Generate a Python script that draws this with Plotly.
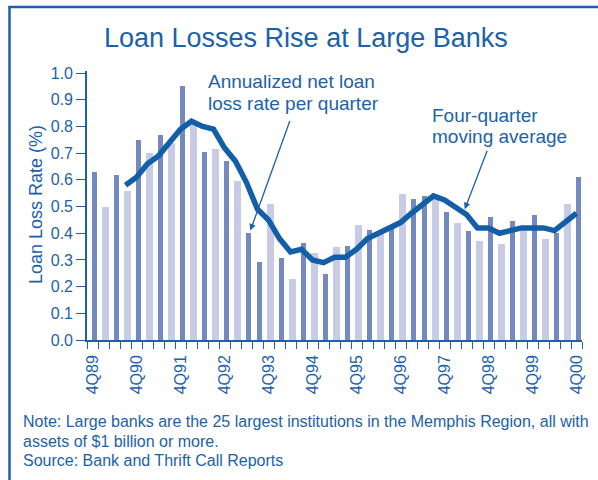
import plotly.graph_objects as go

# Annualized net loan loss rate per quarter (%), 4Q89 .. 4Q00
loss_rate = [0.63, 0.50, 0.62, 0.56, 0.75, 0.70, 0.77, 0.74, 0.95, 0.81,
             0.705, 0.715, 0.67, 0.595, 0.40, 0.293, 0.51, 0.306, 0.229, 0.364,
             0.326, 0.246, 0.349, 0.352, 0.432, 0.411, 0.405, 0.419, 0.547, 0.530,
             0.541, 0.545, 0.48, 0.44, 0.41, 0.37, 0.46, 0.36, 0.445, 0.41,
             0.47, 0.38, 0.40, 0.51, 0.61]

# Four-quarter moving average (%), starts with the fourth quarter shown
moving_avg = [None, None, None, 0.58, 0.61, 0.66, 0.69, 0.74, 0.79, 0.82,
              0.80, 0.79, 0.72, 0.67, 0.59, 0.49, 0.45, 0.38, 0.33, 0.34,
              0.30, 0.29, 0.31, 0.31, 0.34, 0.38, 0.40, 0.42, 0.44, 0.475,
              0.51, 0.54, 0.525, 0.50, 0.47, 0.42, 0.42, 0.40, 0.41, 0.42,
              0.42, 0.42, 0.41, 0.44, 0.475]

tick_labels = ["4Q89", "4Q90", "4Q91", "4Q92", "4Q93", "4Q94",
               "4Q95", "4Q96", "4Q97", "4Q98", "4Q99", "4Q00"]

# Bar shading per quarter: d = dark, l = light
bar_shade = "dldldldldldldl" + "dd" + "ldldldldldldl" + "dd" + "ldldldldldldld"

BLUE = "#1b62aa"
LINE_BLUE = "#135ea8"
DARK = "#7589c1"
LIGHT = "#c7cbe4"
FONT = "Liberation Sans, Arial, sans-serif"

n = len(loss_rate)
xs = list(range(n))

# plot-area geometry in pixels, for placing text around it
L, R, T, B = 87, 16, 71, 140
W, H = 598, 480
PW, PH = W - L - R, H - T - B


def px(x):
    return (x - L) / PW


def py(y):
    return (H - B - y) / PH


colors = [DARK if s == "d" else LIGHT for s in bar_shade]
widths = [0.47 if s == "d" else 0.62 for s in bar_shade]
offsets = [-0.03 if s == "d" else -0.12 for s in bar_shade]

fig = go.Figure()
fig.add_trace(go.Bar(
    x=xs, y=loss_rate,
    marker=dict(color=colors, line=dict(width=0)),
    width=widths, offset=offsets,
    hoverinfo="skip",
))
fig.add_trace(go.Scatter(
    x=xs, y=moving_avg, mode="lines",
    line=dict(color=LINE_BLUE, width=5.5),
    hoverinfo="skip",
))

annotations = [
    dict(text="Loan Losses Rise at Large Banks", x=px(306), y=py(38),
         font=dict(size=27, color=BLUE)),
    dict(text="Loan Loss Rate (%)", x=px(36), y=py(205), textangle=-90,
         font=dict(size=18, color=BLUE)),
    dict(text="Annualized net loan", x=px(206), y=py(81.5), xanchor="left",
         font=dict(size=19, color=BLUE)),
    dict(text="loss rate per quarter", x=px(206), y=py(103.5), xanchor="left",
         font=dict(size=19, color=BLUE)),
    dict(text="Four-quarter", x=px(430), y=py(115), xanchor="left",
         font=dict(size=19, color=BLUE)),
    dict(text="moving average", x=px(430), y=py(136.5), xanchor="left",
         font=dict(size=19, color=BLUE)),
    dict(text="Note: Large banks are the 25 largest institutions in the Memphis Region, all with",
         x=px(21), y=py(422), xanchor="left", font=dict(size=16, color=BLUE)),
    dict(text="assets of $1 billion or more.",
         x=px(21), y=py(441), xanchor="left", font=dict(size=16, color=BLUE)),
    dict(text="Source: Bank and Thrift Call Reports",
         x=px(21), y=py(460), xanchor="left", font=dict(size=16, color=BLUE)),
]
for a in annotations:
    a.update(xref="paper", yref="paper", showarrow=False)
    a.setdefault("xanchor", "center")
    a.setdefault("yanchor", "middle")

# pointer arrows from the two labels
annotations += [
    dict(text="", x=14.35, y=0.41, xref="x", yref="y", ax=40, ay=-111,
         showarrow=True, arrowhead=2, arrowsize=1, arrowwidth=1.3, arrowcolor=BLUE),
    dict(text="", x=33.84, y=0.49, xref="x", yref="y", ax=23, ay=-60,
         showarrow=True, arrowhead=2, arrowsize=1, arrowwidth=1.3, arrowcolor=BLUE),
]

# frame along the left and top edges
shapes = [
    dict(type="line", xref="paper", yref="paper",
         x0=px(9.5), x1=px(9.5), y0=py(7), y1=py(490),
         line=dict(color=BLUE, width=2.5)),
    dict(type="line", xref="paper", yref="paper",
         x0=px(8.3), x1=px(605), y0=py(7), y1=py(7),
         line=dict(color=BLUE, width=2.5)),
]

fig.update_layout(
    template="none",
    width=W, height=H, autosize=False,
    margin=dict(l=L, r=R, t=T, b=B, pad=0),
    paper_bgcolor="white", plot_bgcolor="white",
    font=dict(family=FONT, color=BLUE),
    showlegend=False,
    bargap=0,
    annotations=annotations,
    shapes=shapes,
    xaxis=dict(
        range=[-0.5, n - 0.5],
        tickmode="array",
        tickvals=list(range(0, n, 4)),
        ticktext=tick_labels,
        tickangle=-90,
        ticks="outside", ticklen=7, tickcolor="rgba(0,0,0,0)",
        minor=dict(ticks="outside", tick0=-0.5, dtick=1, ticklen=7,
                   tickcolor=BLUE, tickwidth=1.3),
        tickfont=dict(size=16, color=BLUE),
        showline=True, linecolor=BLUE, linewidth=1.6,
        showgrid=False, zeroline=False, automargin=False,
        fixedrange=True,
    ),
    yaxis=dict(
        range=[0, 1.008],
        tickmode="array",
        tickvals=[0.0, 0.1, 0.2, 0.3, 0.4, 0.5, 0.6, 0.7, 0.8, 0.9, 1.0],
        tickformat=".1f",
        ticks="outside", ticklen=9, tickcolor=BLUE, tickwidth=1.3,
        tickfont=dict(size=16, color=BLUE),
        showline=True, linecolor=BLUE, linewidth=1.6,
        showgrid=False, zeroline=False, automargin=False,
        fixedrange=True,
    ),
)

fig.write_html("out.html", config={"displayModeBar": False})
